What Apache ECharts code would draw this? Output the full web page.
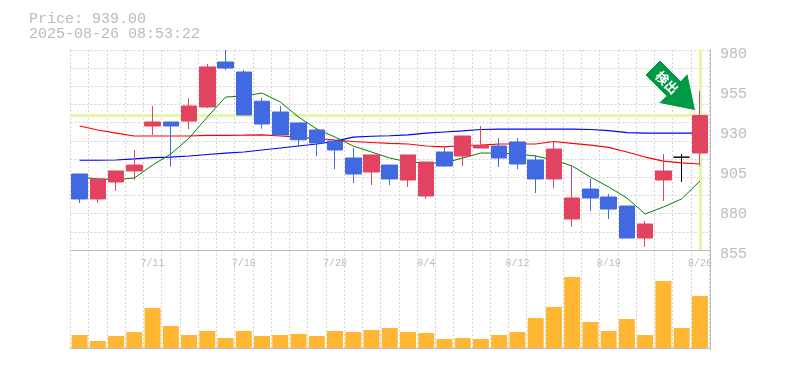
<!DOCTYPE html>
<html>
<head>
<meta charset="utf-8">
<style>
  html, body { margin: 0; padding: 0; background: #fff; }
  #ec { width: 785px; height: 370px; }
</style>
</head>
<body>
<div id="ec"></div>
<script src="https://cdn.jsdelivr.net/npm/echarts@6/dist/echarts.min.js"></script>
<script>
var price = 939;
var stamp = "2025-08-26 08:53:22";
var priceTicks = [855, 880, 905, 930, 955, 980];

var days = ["7/7", "7/8", "7/9", "7/10", "7/11", "7/14", "7/15", "7/16", "7/17", "7/18",
  "7/22", "7/23", "7/24", "7/25", "7/28", "7/29", "7/30", "7/31", "8/1", "8/4",
  "8/5", "8/6", "8/7", "8/8", "8/12", "8/13", "8/14", "8/15", "8/18", "8/19",
  "8/20", "8/21", "8/22", "8/25", "8/26"];

var opens = [902.5, 886.9, 897.5, 904.4, 932.5, 935, 935.6, 944.4, 972.5, 966.25,
  948, 941.25, 934.4, 930, 923.1, 912.5, 903.75, 908.1, 898.75, 888.75,
  916.25, 913.75, 918.75, 920, 922.5, 911.25, 899.4, 874.4, 893.1, 888.1,
  882.5, 862.5, 898.75, 913, 915.6];
var closes = [886.9, 899.4, 904.4, 908.1, 935, 932.5, 945, 969.4, 968.75, 939.4,
  933.75, 926.9, 923.9, 921.9, 917.5, 902.5, 914.4, 899.4, 914.4, 910,
  907.5, 926.25, 920.2, 912.5, 908.75, 899.4, 918.1, 887.5, 887.5, 880.6,
  862.5, 871.25, 904.4, 913, 939];
var lows = [884.4, 884.4, 891.9, 898.75, 926.9, 907.1, 930.6, 943.75, 967.5, 939.4,
  930.8, 926.9, 920, 913.75, 905.6, 896.9, 895.6, 895.6, 894.4, 886.9,
  906.9, 907.5, 918.75, 906.9, 905.6, 890.6, 893.75, 869.4, 879.4, 874.4,
  862.5, 856.9, 885.6, 897.5, 907.5];
var highs = [902.5, 899.4, 904.4, 917.5, 945, 935, 950, 971.25, 980, 967.5,
  950, 945, 934.4, 931.25, 923.75, 918.75, 914.4, 908.1, 914.4, 910,
  919.4, 926.25, 932.5, 925, 925, 914.4, 923.1, 908.1, 899.4, 890,
  882.5, 873.1, 915, 915, 954.4];

var maShort = [900.6, 899.4, 899, 900, 908.1, 915, 925, 938.1, 950.6, 951.25,
  953.1, 947.5, 938.1, 930.6, 925.6, 920, 916.25, 912.5, 910, 909.4,
  909.4, 912.5, 915.6, 915.6, 915, 913.75, 911.25, 907.5, 900.6, 894.4,
  887.5, 877.5, 881.9, 886.9, 898.1];
var maMid = [932.5, 930, 928.1, 926.25, 926.25, 926.25, 926.25, 926.6, 926.7, 926.75,
  926.9, 926.25, 925.6, 924.7, 923.75, 922.8, 922.2, 921.6, 921.25, 920,
  919.4, 920.3, 920.6, 921.25, 921.25, 921.25, 922.8, 921.6, 920.6, 919.1,
  916.25, 913.1, 910.6, 909.4, 908.75];
var maLong = [911.1, 911.1, 911.25, 911.9, 912.7, 913.1, 913.75, 914.7, 915.6, 916.25,
  917.5, 918.75, 920, 921.25, 923.1, 925.6, 926.1, 926.4, 926.9, 928.1,
  928.75, 929.4, 930.3, 930.6, 930.6, 930.6, 930.6, 930.6, 930.3, 929.6,
  928.4, 928.1, 928.1, 928.1, 928.1];

var volumes = [13, 7, 12, 16, 40, 22, 13, 17, 10, 17,
  12, 13, 14, 12, 17, 16, 18, 20, 16, 15,
  9, 10, 9, 13, 16, 30, 41, 71, 26, 17,
  29, 13, 67, 20, 52];

var grey = "#bbbbbb";
var gridLine = { show: true, lineStyle: { color: "#d4d4d4", width: 1, type: [2, 2] } };
var bars = days.map(function (d, i) {
  return [opens[i], closes[i], lows[i], highs[i]];
});

var myChart = echarts.init(document.getElementById("ec"));
myChart.setOption({
  animation: false,
  backgroundColor: "#ffffff",
  title: {
    text: "Price: " + price.toFixed(2) + "\n" + stamp,
    left: 29,
    top: 12,
    padding: 0,
    textStyle: {
      fontFamily: "Liberation Mono",
      fontSize: 15,
      fontWeight: "normal",
      lineHeight: 15,
      color: grey,
    },
  },
  grid: [
    { left: 70.5, top: 50, width: 638.5, height: 200 },
    { left: 70.5, top: 250, width: 638.5, height: 100 },
  ],
  xAxis: [
    {
      type: "category",
      gridIndex: 0,
      data: days,
      axisLine: { lineStyle: { color: grey } },
      axisTick: { show: false },
      axisLabel: {
        interval: function (i) {
          return i % 5 === 4;
        },
        margin: 8,
        fontFamily: "Liberation Mono",
        fontSize: 10,
        color: grey,
        hideOverlap: false,
      },
      splitLine: Object.assign({ interval: 0 }, gridLine),
    },
    {
      type: "category",
      gridIndex: 1,
      data: days,
      axisLine: { lineStyle: { color: grey } },
      axisTick: { show: false },
      axisLabel: { show: false },
      splitLine: Object.assign({ interval: 0 }, gridLine),
    },
  ],
  yAxis: [
    {
      type: "value",
      gridIndex: 0,
      position: "right",
      offset: 1,
      min: 855,
      max: 980,
      axisLine: { show: true, lineStyle: { color: grey } },
      axisTick: { show: false },
      splitLine: { show: false },
      axisLabel: {
        customValues: priceTicks,
        margin: 10,
        verticalAlign: "top",
        lineHeight: 8,
        fontFamily: "Liberation Mono",
        fontSize: 15,
        color: grey,
      },
    },
    // 11 even rows, they do not line up with the price ticks
    {
      type: "value",
      gridIndex: 0,
      position: "left",
      min: 0,
      max: 11,
      interval: 1,
      axisLine: { show: false },
      axisTick: { show: false },
      axisLabel: { show: false },
      splitLine: gridLine,
    },
    {
      type: "value",
      gridIndex: 1,
      position: "right",
      offset: 1,
      min: -2,
      max: 98,
      axisLine: { show: true, lineStyle: { color: grey } },
      axisTick: { show: false },
      axisLabel: { show: false },
      splitLine: { show: false },
    },
  ],
  series: [
    {
      name: "Long",
      type: "line",
      xAxisIndex: 0,
      yAxisIndex: 0,
      data: maLong,
      z: 2,
      symbol: "none",
      lineStyle: { color: "#0000ff", width: 1.2 },
      markLine: {
        z: 1,
        silent: true,
        symbol: "none",
        label: { show: false },
        lineStyle: { color: "#e4f5a6", width: 3, type: "solid" },
        data: [{ yAxis: price }, { xAxis: "8/26" }],
      },
    },
    {
      name: "Mid",
      type: "line",
      xAxisIndex: 0,
      yAxisIndex: 0,
      data: maMid,
      z: 2,
      symbol: "none",
      lineStyle: { color: "#ff0000", width: 1.2 },
    },
    {
      name: "Short",
      type: "line",
      xAxisIndex: 0,
      yAxisIndex: 0,
      data: maShort,
      z: 2,
      symbol: "none",
      lineStyle: { color: "#008000", width: 1 },
    },
    {
      name: "Price",
      type: "candlestick",
      xAxisIndex: 0,
      yAxisIndex: 0,
      data: bars,
      z: 3,
      barWidth: 16,
      itemStyle: {
        color: "#e24361",
        color0: "#4169e1",
        borderColor: "#e24361",
        borderColor0: "#4169e1",
        borderColorDoji: "#000000",
        borderWidth: 1,
      },
    },
    {
      name: "Volume",
      type: "bar",
      xAxisIndex: 1,
      yAxisIndex: 2,
      data: volumes,
      barWidth: 16,
      itemStyle: { color: "#ffb733" },
    },
  ],
  graphic: [
    {
      type: "polygon",
      z: 10,
      shape: {
        points: [[645, 75], [660, 60], [680.7, 80.7], [687.7, 73.3], [695.7, 110.7], [658.3, 103.3], [666, 96]],
      },
      style: { fill: "#009944", stroke: "#ffffff", lineWidth: 1 },
    },
    {
      type: "text",
      z: 11,
      x: 667,
      y: 82.5,
      rotation: -Math.PI / 4,
      style: {
        text: "検出",
        fill: "#ffffff",
        font: "bold 13px 'Noto Sans CJK JP'",
        align: "center",
        verticalAlign: "middle",
      },
    },
  ],
});
</script>
</body>
</html>
